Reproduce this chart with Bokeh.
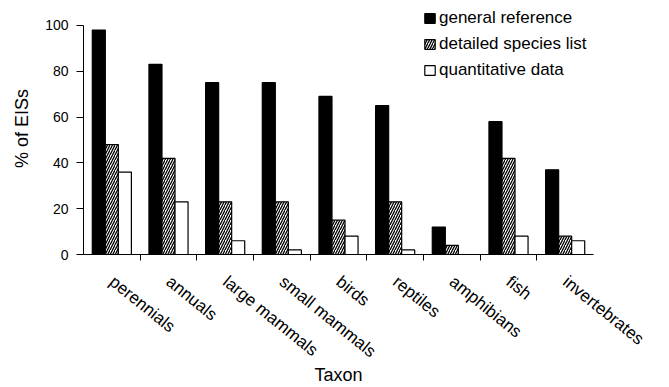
from bokeh.plotting import figure
from bokeh.models import (ColumnDataSource, FactorRange, Range1d,
                          CategoricalAxis, FixedTicker, Legend, LegendItem,
                          CustomLabelingPolicy)
from bokeh.transform import dodge
from bokeh.embed import file_html
from bokeh.resources import INLINE

# Share of EISs (%) covering each taxon, by level of information
taxa = ["perennials", "annuals", "large mammals", "small mammals", "birds",
        "reptiles", "amphibians", "fish", "invertebrates"]
general_reference = [98, 83, 75, 75, 69, 65, 12, 58, 37]
detailed_species_list = [48, 42, 23, 23, 15, 23, 4, 42, 8]
quantitative_data = [36, 23, 6, 2, 8, 2, 0, 8, 6]
y_ticks = [0, 20, 40, 60, 80, 100]

source = ColumnDataSource(dict(
    taxon=taxa,
    general=general_reference,
    detailed=detailed_species_list,
    quant=quantitative_data,
))

FONT = "Liberation Sans"

# the y range runs a little past 100 so the legend has room at the top;
# the axis line itself stops at 100
p = figure(
    width=669, height=387,
    x_range=FactorRange(*taxa),
    y_range=Range1d(0, 110),
    x_axis_location=None,
    output_backend="svg",
    toolbar_location=None,
    min_border_left=83, min_border_right=76,
    min_border_top=2, min_border_bottom=133,
)
p.outline_line_color = None
p.grid.visible = False
p.background_fill_color = "white"
p.border_fill_color = "white"

bw = 0.23
r1 = p.vbar(x=dodge("taxon", -bw, range=p.x_range), top="general", width=bw,
            source=source, fill_color="black", line_color="black", line_width=1.2)
r2 = p.vbar(x=dodge("taxon", 0, range=p.x_range), top="detailed", width=bw,
            source=source, fill_color="white", line_color="black", line_width=1.2,
            hatch_pattern="right_diagonal_line", hatch_color="black",
            hatch_scale=5, hatch_weight=1.3)
r3 = p.vbar(x=dodge("taxon", bw, range=p.x_range), top="quant", width=bw,
            source=source, fill_color="white", line_color="black", line_width=1.2)

# y axis
yax = p.yaxis[0]
yax.ticker = FixedTicker(ticks=y_ticks)
yax.bounds = (0, 100)
yax.minor_tick_line_color = None
yax.major_tick_in = 0
yax.major_tick_out = 7
yax.major_label_standoff = 8
yax.major_label_text_font = FONT
yax.major_label_text_font_size = "14px"
yax.major_label_text_color = "black"
yax.axis_label = "% of EISs"
yax.axis_label_text_font = FONT
yax.axis_label_text_font_size = "18px"
yax.axis_label_text_font_style = "normal"
yax.axis_label_text_color = "black"
yax.axis_label_standoff = 10
yax.axis_line_color = "black"
yax.major_tick_line_color = "black"

# x axis: tick marks on the boundaries between groups, from a second factor
# range whose factor centres fall on those boundaries (no labels of its own)
edge_names = [f"edge{i}" for i in range(len(taxa) + 1)]
p.extra_x_ranges = {"edges": FactorRange(factors=edge_names, range_padding=-0.1,
                                         range_padding_units="percent")}
edge_axis = CategoricalAxis(
    x_range_name="edges",
    major_tick_in=0, major_tick_out=6,
    minor_tick_line_color=None,
    major_label_policy=CustomLabelingPolicy(
        code="for (const i of [...indices]) indices.unset(i); return indices"),
    major_label_text_font_size="0px",
    major_label_standoff=0,
    axis_line_color="black", major_tick_line_color="black",
)
label_axis = CategoricalAxis(
    axis_line_color=None,
    major_tick_line_color=None,
    minor_tick_line_color=None,
    major_label_orientation=-0.68,
    major_label_standoff=13,
    major_label_text_font=FONT,
    major_label_text_font_size="17px",
    major_label_text_color="black",
    axis_label="Taxon",
    axis_label_text_font=FONT,
    axis_label_text_font_size="18px",
    axis_label_text_font_style="normal",
    axis_label_text_color="black",
    axis_label_standoff=-7,
)
p.add_layout(edge_axis, "below")
p.add_layout(label_axis, "below")

legend = Legend(
    items=[
        LegendItem(label="general reference", renderers=[r1]),
        LegendItem(label="detailed species list", renderers=[r2]),
        LegendItem(label="quantitative data", renderers=[r3]),
    ],
    location=(340, 174),
    glyph_width=13, glyph_height=12,
    label_standoff=3,
    label_height=20,
    spacing=6,
    padding=0, margin=0,
    border_line_color=None,
    background_fill_alpha=0,
    label_text_font=FONT,
    label_text_font_size="17px",
    label_text_color="black",
)
p.add_layout(legend, "center")

open("out.html", "w").write(file_html(p, INLINE))
